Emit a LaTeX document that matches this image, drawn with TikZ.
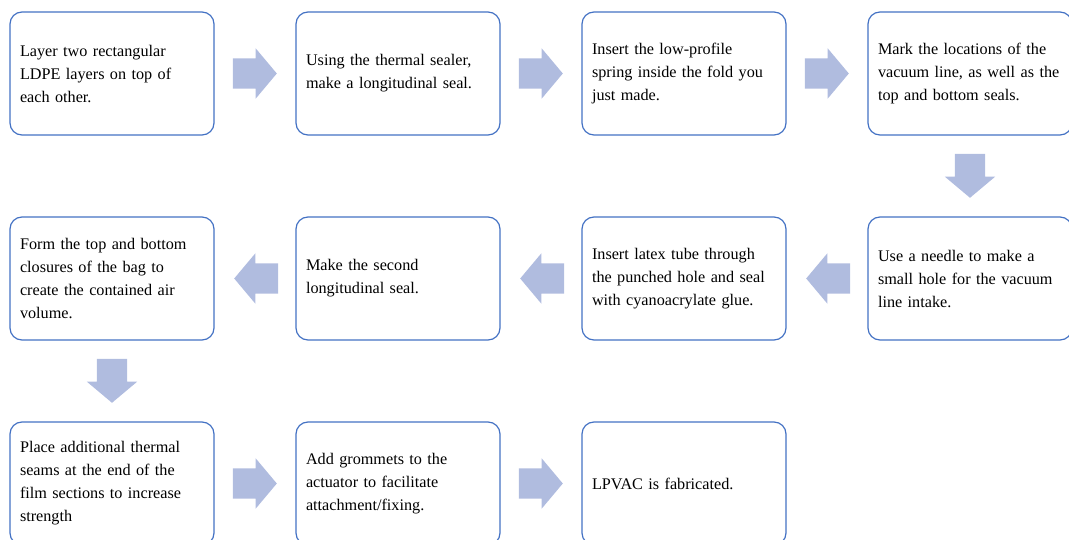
\documentclass[tikz,border=0pt]{standalone}
\usepackage{fontspec}
\setmainfont{Liberation Serif}
\usepackage{tikz}
\usetikzlibrary{shapes.arrows}
\definecolor{qqttcc}{rgb}{0.267,0.447,0.769}
\definecolor{bbccee}{rgb}{0.690,0.737,0.875}
\begin{document}
\begin{tikzpicture}[line cap=round,line join=round,x=1.0pt,y=-1.0pt,
		stepbox/.style={draw=qqttcc,line width=1.2pt,rounded corners=12pt,fill=white,minimum width=204pt,minimum height=123pt,text width=184pt,align=left,inner sep=0pt,font=\fontsize{16.2}{23}\selectfont},
		flowarrow/.style={single arrow,fill=bbccee,draw=none,minimum width=50pt,minimum height=44pt,single arrow head extend=10pt,single arrow tip angle=100,inner xsep=0pt,inner ysep=15pt,anchor=tail},
		downarrow/.style={flowarrow,shape border rotate=270,inner xsep=15pt,inner ysep=0pt}]
		\useasboundingbox (0,0) rectangle (1069,540);
		\node[stepbox] (layer) at (112,73.5) {Layer two rectangular\\LDPE layers on top of\\each other.};
		\node[stepbox] (seal) at (398,73.5) {Using the thermal sealer,\\make a longitudinal seal.};
		\node[stepbox] (spring) at (684,73.5) {Insert the low-profile\\spring inside the fold you\\just made.};
		\node[stepbox] (mark) at (970,73.5) {Mark the locations of the\\vacuum line, as well as the\\top and bottom seals.};
		\node[stepbox] (needle) at (970,278.5) {Use a needle to make a\\small hole for the vacuum\\line intake.};
		\node[stepbox] (tube) at (684,278.5) {Insert latex tube through\\the punched hole and seal\\with cyanoacrylate glue.};
		\node[stepbox] (second) at (398,278.5) {Make the second\\longitudinal seal.};
		\node[stepbox] (closure) at (112,278.5) {Form the top and bottom\\closures of the bag to\\create the contained air\\volume.};
		\node[stepbox] (seams) at (112,483.5) {Place additional thermal\\seams at the end of the\\film sections to increase\\strength};
		\node[stepbox] (grommet) at (398,483.5) {Add grommets to the\\actuator to facilitate\\attachment/fixing.};
		\node[stepbox] (done) at (684,483.5) {LPVAC is fabricated.};
		\path (layer.east) ++(18,0) node[flowarrow] (a1) {};
		\path (seal.east) ++(18,0) node[flowarrow] (a2) {};
		\path (spring.east) ++(18,0) node[flowarrow] (a3) {};
		\path (mark.south) ++(0,18) node[downarrow] (a4) {};
		\path (needle.west) ++(-17,0) node[flowarrow,shape border rotate=180] (a5) {};
		\path (tube.west) ++(-17,0) node[flowarrow,shape border rotate=180] (a6) {};
		\path (second.west) ++(-17,0) node[flowarrow,shape border rotate=180] (a7) {};
		\path (closure.south) ++(0,18) node[downarrow] (a8) {};
		\path (seams.east) ++(18,0) node[flowarrow] (a9) {};
		\path (grommet.east) ++(18,0) node[flowarrow] (a10) {};
\end{tikzpicture}
\end{document}
